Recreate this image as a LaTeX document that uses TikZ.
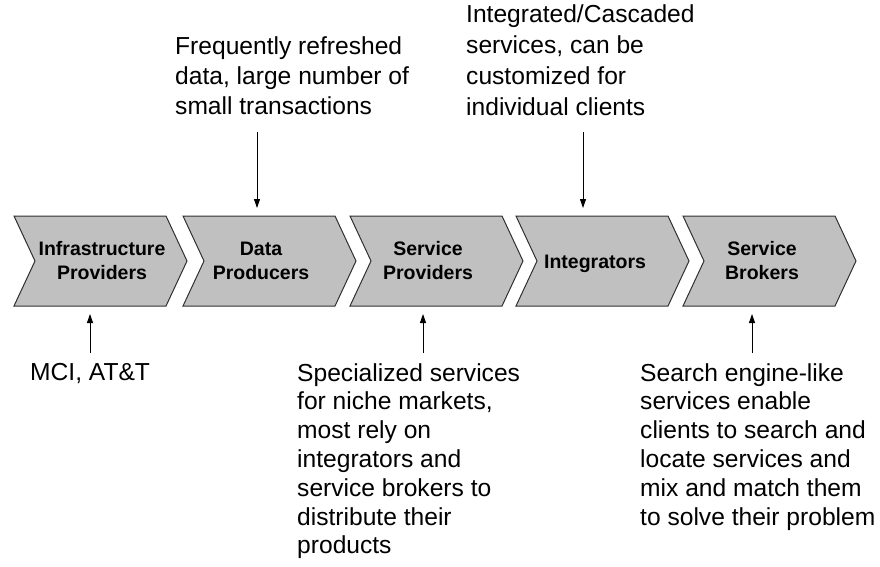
\documentclass[tikz,border=0pt]{standalone}
\usepackage{fontspec}
\setmainfont{Liberation Sans}
\usetikzlibrary{arrows.meta}
\definecolor{chevgray}{HTML}{C0C0C0}
\definecolor{chevline}{HTML}{303030}
\begin{document}
\begin{tikzpicture}[x=1pt,y=-1pt,
  chev/.style={fill=chevgray,draw=chevline,line width=1pt,line join=miter},
  lab/.style={font=\fontsize{19.5}{24}\selectfont\bfseries,align=center,inner sep=0pt},
  note/.style={font=\fontsize{24.6}{28.8}\selectfont,align=left,inner sep=0pt},
  arr/.style={line width=0.9pt,-{Triangle[length=9pt,width=6pt]}}]
\useasboundingbox (0,0) rectangle (880,567);
% chevrons
\foreach \x in {14,183,350,516,683}
  \draw[chev] (\x,216) -- ++(152,0) -- ++(21,45) -- ++(-21,45) -- ++(-152,0) -- ++(21,-45) -- cycle;
% labels (anchor base = baseline of last line)
\node[lab,anchor=base] (c1) at (102,279) {Infrastructure\\Providers};
\node[lab,anchor=base] (c2) at (261,279) {Data\\Producers};
\node[lab,anchor=base] (c3) at (428,279) {Service\\Providers};
\node[lab,anchor=base] (c4) at (595,268) {Integrators};
\node[lab,anchor=base] (c5) at (762,279) {Service\\Brokers};
% notes
\node[note,anchor=base west,font=\fontsize{24.6}{29.5}\selectfont] (t1) at (175,114) {Frequently refreshed\\data, large number of\\small transactions};
\node[note,anchor=base west,font=\fontsize{24.6}{31}\selectfont] (t2) at (466,115.5) {Integrated/Cascaded\\services, can be\\customized for\\individual clients};
\node[note,anchor=base west] (t3) at (30,380) {MCI, AT\&T};
\node[note,anchor=base west] (t4) at (297,553.8) {Specialized services\\for niche markets,\\most rely on\\integrators and\\service brokers to\\distribute their\\products};
\node[note,anchor=base west] (t5) at (640,525) {Search engine-like\\services enable\\clients to search and\\locate services and\\mix and match them\\to solve their problem};
% connector ends
\coordinate (a1s) at (257,132); \coordinate (a1e) at (257,208);
\coordinate (a2s) at (583,132); \coordinate (a2e) at (583,208);
\coordinate (b1s) at (90,353);  \coordinate (b1e) at (90,314);
\coordinate (b2s) at (423,353); \coordinate (b2e) at (423,314);
\coordinate (b3s) at (752,353); \coordinate (b3e) at (752,314);
\draw[arr] (a1s) -- (a1e);
\draw[arr] (a2s) -- (a2e);
\draw[arr] (b1s) -- (b1e);
\draw[arr] (b2s) -- (b2e);
\draw[arr] (b3s) -- (b3e);
\end{tikzpicture}
\end{document}
